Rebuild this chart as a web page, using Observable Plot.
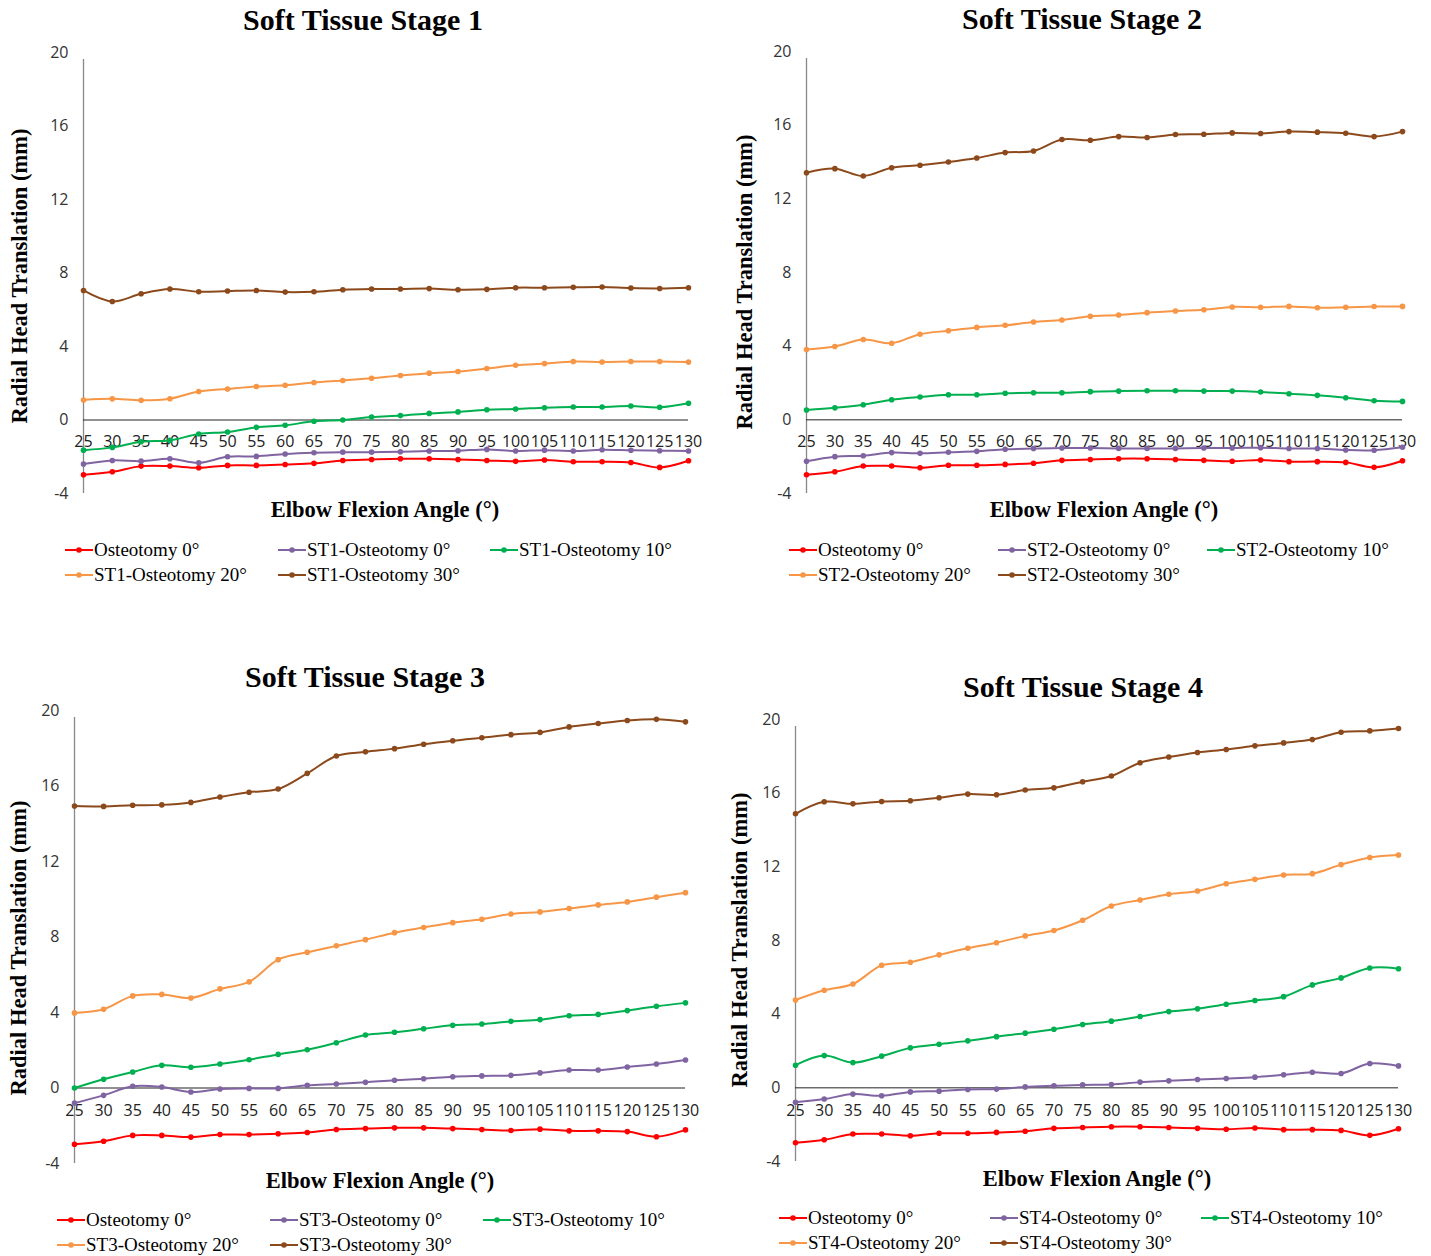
<!DOCTYPE html>
<html>
<head>
<meta charset="utf-8">
<script src="https://cdn.jsdelivr.net/npm/d3@7"></script>
<script src="https://cdn.jsdelivr.net/npm/@observablehq/plot@0.6"></script>
<style>
  body { margin: 0; background: #fff; }
  #page { position: relative; width: 1431px; height: 1256px; overflow: hidden; background: #fff; }
  .abs { position: absolute; }
  .title { font-family: "Liberation Serif", "Times New Roman", serif; font-weight: bold; font-size: 30px; white-space: nowrap; transform: translate(-50%, -50%); color: #000; }
  .ylab { font-family: "Liberation Serif", "Times New Roman", serif; font-weight: bold; font-size: 22.5px; white-space: nowrap; transform: translate(-50%, -50%) rotate(-90deg); color: #000; }
  .xlab { font-family: "Liberation Serif", "Times New Roman", serif; font-weight: bold; font-size: 22.5px; white-space: nowrap; transform: translate(-50%, -50%); color: #000; }
  .leg { font-family: "Liberation Serif", "Times New Roman", serif; font-size: 19px; white-space: nowrap; display: flex; align-items: center; transform: translateY(-50%); color: #000; }
  .leg svg { margin-right: 1px; }
</style>
</head>
<body>
<div id="page"></div>
<script>
const angles = [25,30,35,40,45,50,55,60,65,70,75,80,85,90,95,100,105,110,115,120,125,130];
const yTicks = [-4,0,4,8,12,16,20];
const colors = ["#FF0000", "#8064A2", "#00B050", "#F79646", "#8C4A1C"];

const osteotomy0 = [-2.98,-2.82,-2.51,-2.51,-2.6,-2.47,-2.47,-2.42,-2.36,-2.2,-2.15,-2.11,-2.11,-2.15,-2.2,-2.25,-2.18,-2.27,-2.27,-2.31,-2.58,-2.22];

const st1_0  = [-2.4,-2.2,-2.24,-2.11,-2.33,-2.0,-1.98,-1.85,-1.78,-1.75,-1.75,-1.73,-1.69,-1.67,-1.6,-1.69,-1.64,-1.69,-1.62,-1.65,-1.67,-1.69];
const st1_10 = [-1.64,-1.49,-1.18,-1.11,-0.76,-0.65,-0.4,-0.29,-0.07,0,0.16,0.24,0.36,0.44,0.56,0.6,0.67,0.71,0.71,0.76,0.69,0.91];
const st1_20 = [1.09,1.15,1.07,1.16,1.55,1.69,1.82,1.89,2.04,2.15,2.27,2.42,2.55,2.64,2.8,2.98,3.07,3.18,3.16,3.18,3.18,3.15];
const st1_30 = [7.05,6.45,6.87,7.13,6.98,7.02,7.05,6.96,6.98,7.09,7.13,7.13,7.15,7.09,7.11,7.2,7.2,7.22,7.24,7.18,7.16,7.2];

const st2_0  = [-2.25,-2.0,-1.95,-1.78,-1.82,-1.76,-1.71,-1.6,-1.56,-1.53,-1.53,-1.55,-1.55,-1.55,-1.53,-1.53,-1.51,-1.56,-1.56,-1.64,-1.65,-1.49];
const st2_10 = [0.53,0.65,0.82,1.09,1.24,1.36,1.36,1.44,1.47,1.47,1.53,1.56,1.58,1.58,1.56,1.56,1.51,1.42,1.33,1.2,1.04,1.0];
const st2_20 = [3.82,3.98,4.36,4.16,4.65,4.84,5.02,5.13,5.31,5.42,5.62,5.69,5.82,5.91,5.98,6.13,6.11,6.16,6.09,6.11,6.15,6.16];
const st2_30 = [13.42,13.64,13.24,13.69,13.82,14.0,14.22,14.51,14.6,15.22,15.18,15.38,15.33,15.49,15.51,15.58,15.55,15.65,15.62,15.56,15.38,15.65];

const st3_0  = [-0.8,-0.39,0.09,0.05,-0.21,-0.05,-0.02,-0.02,0.14,0.21,0.3,0.41,0.49,0.6,0.64,0.67,0.8,0.95,0.95,1.11,1.27,1.48];
const st3_10 = [0,0.46,0.85,1.2,1.1,1.27,1.5,1.78,2.03,2.4,2.81,2.95,3.14,3.32,3.39,3.53,3.62,3.83,3.9,4.1,4.33,4.51];
const st3_20 = [3.98,4.17,4.88,4.96,4.77,5.25,5.62,6.8,7.19,7.53,7.86,8.23,8.5,8.76,8.94,9.22,9.33,9.51,9.7,9.86,10.11,10.35];
const st3_30 = [14.94,14.92,14.98,15.0,15.13,15.42,15.67,15.84,16.67,17.59,17.81,17.98,18.21,18.4,18.56,18.72,18.84,19.13,19.31,19.47,19.53,19.4];

const st4_0  = [-0.78,-0.61,-0.34,-0.43,-0.22,-0.18,-0.09,-0.07,0.05,0.11,0.16,0.18,0.31,0.38,0.45,0.51,0.58,0.71,0.85,0.78,1.32,1.19];
const st4_10 = [1.23,1.75,1.37,1.72,2.17,2.37,2.55,2.78,2.97,3.18,3.44,3.62,3.87,4.14,4.29,4.54,4.74,4.95,5.59,5.97,6.51,6.47];
const st4_20 = [4.77,5.3,5.64,6.65,6.82,7.22,7.58,7.88,8.25,8.54,9.1,9.87,10.2,10.51,10.69,11.08,11.32,11.56,11.63,12.12,12.51,12.64];
const st4_30 = [14.88,15.53,15.42,15.55,15.59,15.75,15.95,15.91,16.17,16.29,16.62,16.93,17.65,17.96,18.21,18.37,18.57,18.73,18.91,19.31,19.38,19.51];

const panels = [
  { stage: 1, values: [osteotomy0, st1_0, st1_10, st1_20, st1_30],
    svg: {left: 0, top: 40, width: 715, height: 470, mt: 12, mb: 17, ml: 83, mr: 27}, tickDy: 22,
    title: [363, 20], ylab: [20, 276], xlab: [385, 510], legCols: [65, 278, 490], legRows: [550, 575] },
  { stage: 2, values: [osteotomy0, st2_0, st2_10, st2_20, st2_30],
    svg: {left: 720, top: 40, width: 711, height: 470, mt: 11, mb: 17, ml: 86, mr: 29}, tickDy: 22,
    title: [1082, 19], ylab: [745, 282], xlab: [1104, 510], legCols: [789, 998, 1207], legRows: [550, 575] },
  { stage: 3, values: [osteotomy0, st3_0, st3_10, st3_20, st3_30],
    svg: {left: 0, top: 690, width: 715, height: 490, mt: 20, mb: 17, ml: 74, mr: 30}, tickDy: 23,
    title: [365, 677], ylab: [19, 948], xlab: [380, 1181], legCols: [57, 270, 483], legRows: [1220, 1245] },
  { stage: 4, values: [osteotomy0, st4_0, st4_10, st4_20, st4_30],
    svg: {left: 720, top: 700, width: 711, height: 480, mt: 19, mb: 19, ml: 75, mr: 33}, tickDy: 23,
    title: [1083, 687], ylab: [740, 940], xlab: [1097, 1179], legCols: [779, 990, 1201], legRows: [1218, 1243] }
];

const page = document.getElementById("page");

function addDiv(cls, text, x, y) {
  const d = document.createElement("div");
  d.className = "abs " + cls;
  d.textContent = text;
  d.style.left = x + "px";
  d.style.top = y + "px";
  page.appendChild(d);
  return d;
}

for (const p of panels) {
  const names = ["Osteotomy 0°", `ST${p.stage}-Osteotomy 0°`, `ST${p.stage}-Osteotomy 10°`, `ST${p.stage}-Osteotomy 20°`, `ST${p.stage}-Osteotomy 30°`];
  const data = [];
  p.values.forEach((vals, si) => vals.forEach((v, i) => data.push({series: names[si], angle: angles[i], value: v})));

  const s = p.svg;
  const chart = Plot.plot({
    width: s.width, height: s.height,
    marginTop: s.mt, marginBottom: s.mb, marginLeft: s.ml, marginRight: s.mr,
    style: { fontFamily: "'Open Sans', sans-serif", fontSize: "16px", background: "transparent", overflow: "visible" },
    x: { domain: [angles[0], angles[angles.length - 1]], axis: null },
    y: { domain: [yTicks[0], yTicks[yTicks.length - 1]], axis: null },
    color: { domain: names, range: colors },
    marks: [
      Plot.axisY({ ticks: yTicks, tickSize: 0, tickPadding: 15, tickFormat: d => String(d), label: null, fill: "#333", fontSize: 16 }),
      Plot.ruleX([angles[0]], { y1: yTicks[0], y2: yTicks[yTicks.length - 1], stroke: "#888", strokeWidth: 1.3, insetBottom: -7 }),
      Plot.ruleY([0], { x1: angles[0], x2: angles[angles.length - 1], stroke: "#222", strokeWidth: 1 }),
      Plot.text(angles, { x: d => d, y: 0, dy: p.tickDy, text: d => String(d), fill: "#222", fontSize: 16 }),
      Plot.line(data, { x: "angle", y: "value", z: "series", stroke: "series", strokeWidth: 2, curve: "catmull-rom" }),
      Plot.dot(data, { x: "angle", y: "value", fill: "series", r: 2.8 })
    ]
  });
  chart.style.position = "absolute";
  chart.style.left = s.left + "px";
  chart.style.top = s.top + "px";
  page.appendChild(chart);

  addDiv("title", `Soft Tissue Stage ${p.stage}`, p.title[0], p.title[1]);
  addDiv("ylab", "Radial Head Translation (mm)", p.ylab[0], p.ylab[1]);
  addDiv("xlab", "Elbow Flexion Angle (°)", p.xlab[0], p.xlab[1]);

  names.forEach((name, i) => {
    const row = i < 3 ? 0 : 1;
    const col = i < 3 ? i : i - 3;
    const d = document.createElement("div");
    d.className = "abs leg";
    d.style.left = p.legCols[col] + "px";
    d.style.top = p.legRows[row] + "px";
    d.innerHTML = `<svg width="28" height="12"><line x1="0" y1="6" x2="28" y2="6" stroke="${colors[i]}" stroke-width="2"/><circle cx="14" cy="6" r="2.8" fill="${colors[i]}"/></svg><span>${name}</span>`;
    page.appendChild(d);
  });
}
</script>
</body>
</html>
